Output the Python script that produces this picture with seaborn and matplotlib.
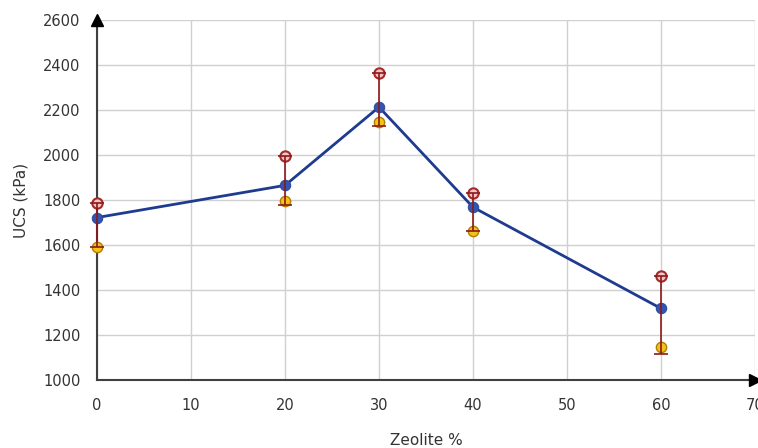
import matplotlib
matplotlib.use("Agg")
import matplotlib.pyplot as plt
import seaborn as sns
import numpy as np
import pandas as pd

zeolite = [0, 20, 30, 40, 60]
ucs_mean = [1722, 1865, 2213, 1768, 1318]
ucs_max = [1787, 1995, 2364, 1831, 1463]
ucs_min = [1592, 1796, 2147, 1662, 1148]
err_low = [1592, 1778, 2129, 1662, 1116]
err_high = [1787, 1995, 2364, 1831, 1463]
x_ticks = [0, 10, 20, 30, 40, 50, 60, 70]
y_ticks = [1000, 1200, 1400, 1600, 1800, 2000, 2200, 2400, 2600]

sns.set_theme(style="white")
plt.rcParams['font.family'] = ['DejaVu Sans']

df = pd.DataFrame({"Zeolite %": zeolite, "mean": ucs_mean, "max": ucs_max, "min": ucs_min})

fig = plt.figure(figsize=(7.58, 4.48), dpi=100)
ax = fig.add_axes([97/758, 1 - 380/448, 658/758, 360/448])

ax.set_xlim(0, 70)
ax.set_ylim(1000, 2600)
ax.set_xticks(x_ticks)
ax.set_yticks(y_ticks)
ax.grid(True, color="#d0d0d0", linewidth=1.0)
ax.set_axisbelow(True)

sns.lineplot(data=df, x="Zeolite %", y="mean", ax=ax, color="#1f3b8f", linewidth=2,
             marker="o", markersize=7.5, markerfacecolor="#3355b0",
             markeredgecolor="#2a4aa0", zorder=4, clip_on=False)
sns.scatterplot(data=df, x="Zeolite %", y="max", ax=ax, s=55, color="#f2c4c4",
                edgecolor="#a52a2a", linewidth=1.5, zorder=5, clip_on=False)
sns.scatterplot(data=df, x="Zeolite %", y="min", ax=ax, s=55, color="#f5c21b",
                edgecolor="#b07d00", linewidth=1.0, zorder=5, clip_on=False)

mean_arr = np.array(ucs_mean)
yerr = np.vstack([mean_arr - np.array(err_low), np.array(err_high) - mean_arr])
eb = ax.errorbar(zeolite, ucs_mean, yerr=yerr, fmt="none", ecolor="#8b1a1a",
                 elinewidth=1.2, capsize=5, capthick=1.2, zorder=6)
for art in eb.get_children():
    art.set_clip_on(False)

for s in ["top", "right"]:
    ax.spines[s].set_visible(False)
for s in ["left", "bottom"]:
    ax.spines[s].set_color("#404040")
    ax.spines[s].set_linewidth(1.5)
    ax.spines[s].set_zorder(2.5)

ax.plot(1, 0, ">", color="black", markersize=9, transform=ax.transAxes, clip_on=False, zorder=7)
ax.plot(0, 1, "^", color="black", markersize=9, transform=ax.transAxes, clip_on=False, zorder=7)

ax.tick_params(axis="both", labelsize=10.5, colors="#333333", length=0)
ax.tick_params(axis="x", pad=13)
ax.tick_params(axis="y", pad=12)
ax.set_xlabel("Zeolite %", fontsize=11, color="#333333", labelpad=14)
ax.set_ylabel("UCS (kPa)", fontsize=11, color="#333333", labelpad=10)

fig.savefig("out.png", dpi=100)
